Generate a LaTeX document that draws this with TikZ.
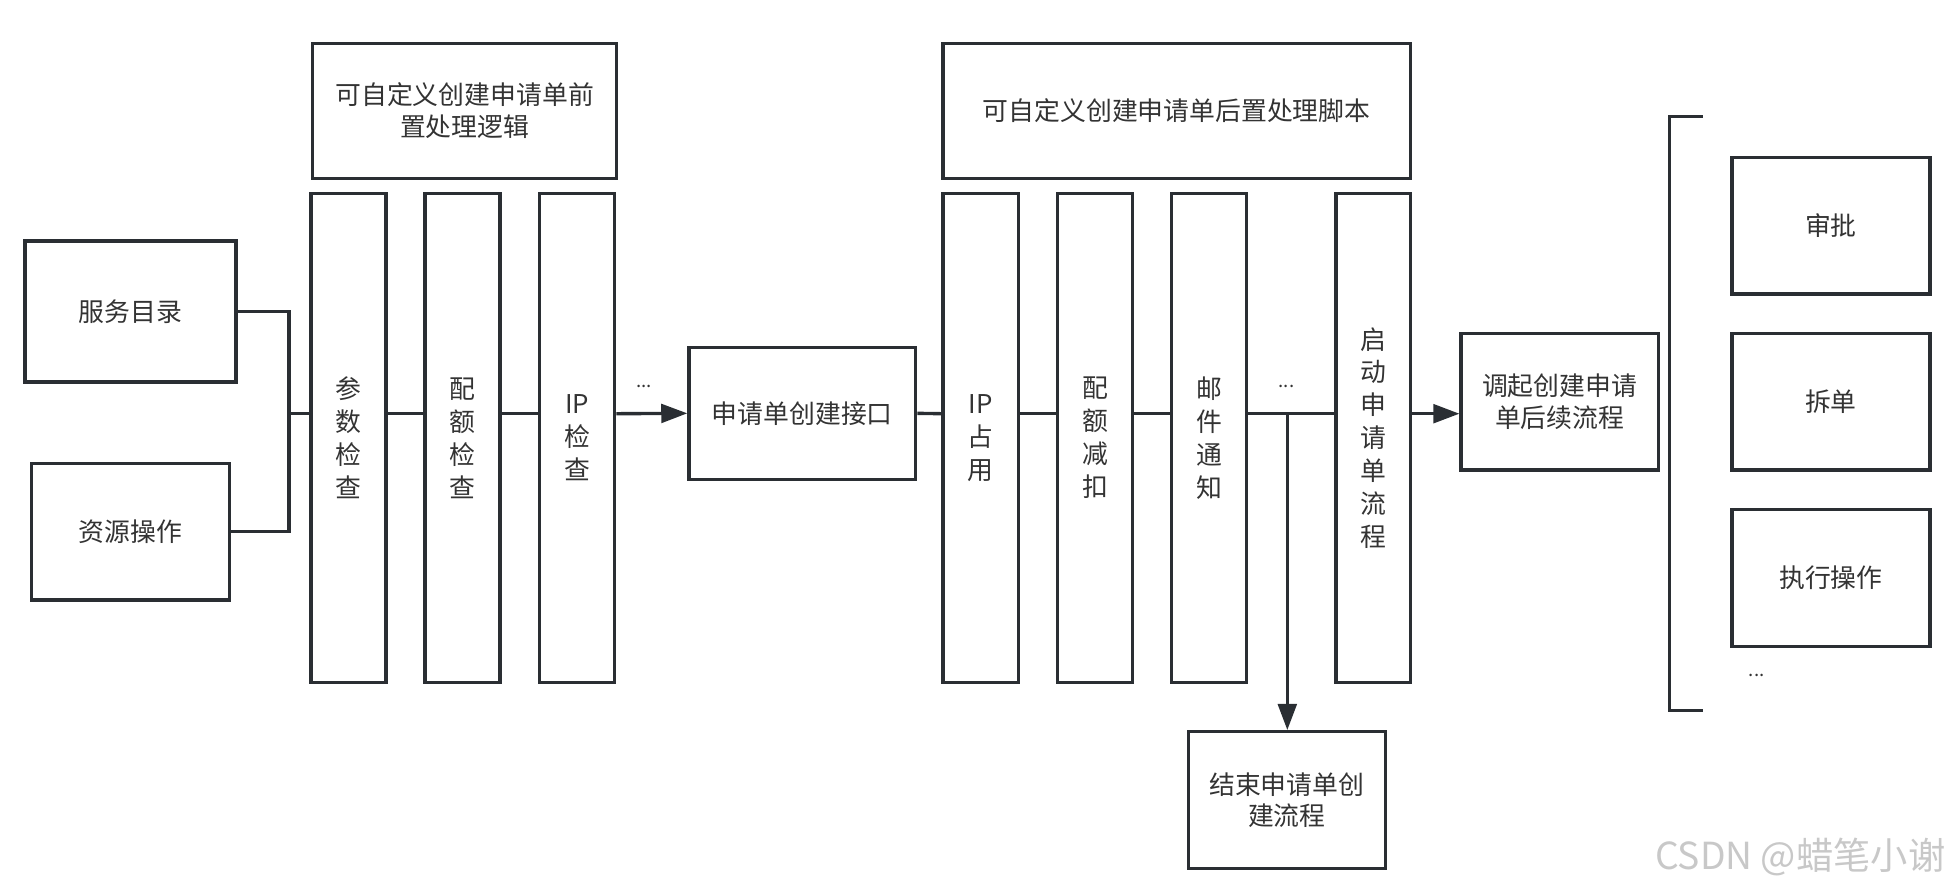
\documentclass[tikz,border=0pt]{standalone}
\usepackage{fontspec}
\setmainfont{Noto Sans CJK SC}
\usetikzlibrary{arrows.meta,calc}
\definecolor{ln}{RGB}{42,46,51}
\definecolor{tx}{RGB}{51,51,51}
\definecolor{wm}{RGB}{200,200,200}
\begin{document}
\begin{tikzpicture}[x=1pt,y=-1pt,
  box/.style={draw=ln,line width=2.7pt,rectangle,inner sep=0pt,align=center,text=tx,font=\fontsize{20.8}{25.5}\selectfont},
  col/.style={box,minimum width=60.5pt,minimum height=393.5pt,font=\fontsize{20.8}{26.5}\selectfont},
  conn/.style={draw=ln,line width=2.7pt},
  arr/.style={conn,-{Triangle[length=21pt,width=15pt]}},
  dots/.style={text=tx,font=\fontsize{15}{15}\selectfont,inner sep=0pt}
]
\useasboundingbox (0,0) rectangle (1568,716.4);
\coordinate (m) at (0,333);
% left inputs
\node[box,minimum width=170pt,minimum height=113.5pt] (srv) at (105.1,250.6) {服务目录};
\node[box,minimum width=159pt,minimum height=110pt] (res) at (105.1,428) {资源操作};
% pre-processing
\node[box,minimum width=244.7pt,minimum height=108.8pt] (pre) at (374,89.2) {可自定义创建申请单前\\置处理逻辑};
\node[col] (c1) at (280.5,352.5) {参\\数\\检\\查};
\node[col] (c2) at (372.3,352.5) {配\\额\\检\\查};
\node[col] (c3) at (464.5,352.5) {IP\\检\\查};
% api
\node[box,minimum width=182.4pt,minimum height=106.4pt] (api) at (645.8,332.7) {申请单创建接口};
% post-processing
\node[box,minimum width=376pt,minimum height=108.8pt] (post) at (947.1,89.2) {可自定义创建申请单后置处理脚本};
\node[col] (d1) at (789.4,352.5) {IP\\占\\用};
\node[col] (d2) at (881.4,352.5) {配\\额\\减\\扣};
\node[col] (d3) at (973.3,352.5) {邮\\件\\通\\知};
\node[col,minimum width=59.8pt] (d4) at (1105.2,352.5) {启\\动\\申\\请\\单\\流\\程};
\node[box,minimum width=158.4pt,minimum height=110pt] (end) at (1035.8,644) {结束申请单创\\建流程};
\node[box,minimum width=158.6pt,minimum height=110pt] (call) at (1255.4,323.4) {调起创建申请\\单后续流程};
% right list
\node[box,minimum width=159.4pt,minimum height=110pt] (appr) at (1473.8,181.7) {审批};
\node[box,minimum width=159.4pt,minimum height=110pt] (split) at (1473.8,323.4) {拆单};
\node[box,minimum width=159.4pt,minimum height=110pt] (exec) at (1473.8,465.3) {执行操作};
\node[dots] (dt3) at (1414,544) {...};
\coordinate (b1) at (1370.7,93.9);
\coordinate (b2) at (1344,93.9);
\coordinate (b3) at (1344,572);
\coordinate (b4) at (1370.7,572);
\draw[conn] (b1) -- (b2) -- (b3) -- (b4);
% connectors
\coordinate (j) at (232.5,333);
\draw[conn] (srv.east) -| (j);
\draw[conn] (res.east) -| (j);
\draw[conn] (j) -- (c1.west |- m);
\draw[conn] (c1.east |- m) -- (c2.west |- m);
\draw[conn] (c2.east |- m) -- (c3.west |- m);
\draw[arr] (c3.east |- m) -- (api.west);
\node[dots] (dt1) at (518.5,311) {...};
\draw[conn] (api.east) -- (d1.west |- m);
\draw[conn] (d1.east |- m) -- (d2.west |- m);
\draw[conn] (d2.east |- m) -- (d3.west |- m);
\draw[conn] (d3.east |- m) -- (d4.west |- m);
\node[dots] (dt2) at (1035.5,311) {...};
\coordinate (br) at (1036.2,333);
\draw[arr] (br) -- (br |- end.north);
\draw[arr] (d4.east |- m) -- (call.west |- m);
% watermark
\node[anchor=east,inner sep=0pt,text=wm,font=\fontsize{30}{30}\selectfont] (wmk) at (1566,690) {CSDN @蜡笔小谢};
\end{tikzpicture}
\end{document}
